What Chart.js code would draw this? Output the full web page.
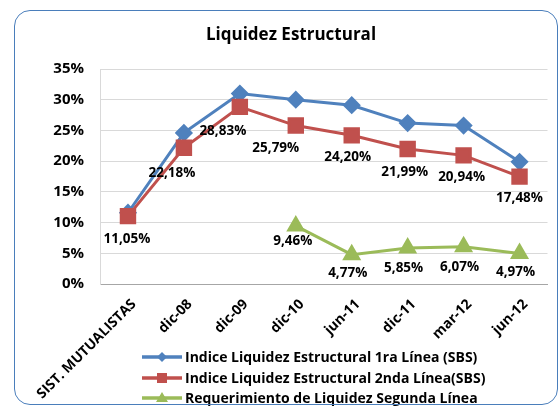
<!DOCTYPE html>
<html>
<head>
<meta charset="utf-8">
<script src="https://cdn.jsdelivr.net/npm/chart.js@4/dist/chart.umd.min.js"></script>
<style>
  html, body { margin: 0; padding: 0; background: #fff; }
  #wrap { position: relative; width: 560px; height: 407px; }
  #frame {
    position: absolute; left: 14px; top: 10px; width: 542px; height: 393px;
    border: 1.5px solid #4a7ebb; border-radius: 16px; pointer-events: none;
  }
  canvas { position: absolute; left: 0; top: 0; }
</style>
</head>
<body>
<div id="wrap">
  <canvas id="chart" width="560" height="407"></canvas>
  <div id="frame"></div>
</div>
<script>
'use strict';

/* DATA */
const categories = ['SIST. MUTUALISTAS', 'dic-08', 'dic-09', 'dic-10', 'jun-11', 'dic-11', 'mar-12', 'jun-12'];
const primeraLinea = [11.6, 24.6, 31.0, 30.0, 29.1, 26.2, 25.8, 19.9];
const segundaLinea = [11.05, 22.18, 28.83, 25.79, 24.20, 21.99, 20.94, 17.48];
const requerimiento = [null, null, null, 9.46, 4.77, 5.85, 6.07, 4.97];
const seriesNames = [
  'Indice Liquidez Estructural 1ra Línea (SBS)',
  'Indice Liquidez Estructural 2nda Línea(SBS)',
  'Requerimiento de Liquidez Segunda Línea'
];
const yTicks = [0, 5, 10, 15, 20, 25, 30, 35];

const FONT = "'Open Sans', 'DejaVu Sans', sans-serif";
const fmt = v => v.toFixed(2).replace('.', ',') + '%';

/* value labels under points (per-point nudges like the hand-placed Excel labels) */
const valueLabels = {
  id: 'valueLabels',
  afterDatasetsDraw(chart) {
    const ctx = chart.ctx;
    ctx.save();
    ctx.font = 'bold 13.5px ' + FONT;
    ctx.fillStyle = '#000';
    ctx.textAlign = 'center';
    ctx.textBaseline = 'middle';
    chart.data.datasets.forEach((ds, i) => {
      if (!ds.label_) return;
      chart.getDatasetMeta(i).data.forEach((pt, j) => {
        const v = ds.data[j];
        if (v == null) return;
        ctx.fillText(fmt(v), pt.x + ds.label_.dx[j], pt.y + ds.label_.dy[j]);
      });
    });
    ctx.restore();
  }
};

/* title + legend drawn on canvas */
const decor = {
  id: 'decor',
  afterDraw(chart) {
    const ctx = chart.ctx;
    ctx.save();
    ctx.fillStyle = '#000';
    ctx.font = 'bold 17px ' + FONT;
    ctx.textAlign = 'center';
    ctx.textBaseline = 'middle';
    ctx.fillText('Liquidez Estructural', 291, 35);

    const rows = [357, 378, 398];
    ctx.font = 'bold 14px ' + FONT;
    ctx.textAlign = 'left';
    chart.data.datasets.forEach((ds, i) => {
      const y = rows[i];
      ctx.strokeStyle = ds.borderColor;
      ctx.lineWidth = 3.5;
      ctx.beginPath(); ctx.moveTo(142, y); ctx.lineTo(182, y); ctx.stroke();
      ctx.fillStyle = ds.borderColor;
      ctx.beginPath();
      const cx = 162;
      if (ds.pointStyle === 'rectRot') {
        ctx.moveTo(cx - 5, y); ctx.lineTo(cx, y - 5); ctx.lineTo(cx + 5, y); ctx.lineTo(cx, y + 5);
      } else if (ds.pointStyle === 'rect') {
        ctx.rect(cx - 5, y - 5, 10, 10);
      } else {
        ctx.moveTo(cx, y - 6); ctx.lineTo(cx + 6, y + 4); ctx.lineTo(cx - 6, y + 4);
      }
      ctx.closePath(); ctx.fill();
      ctx.fillStyle = '#000';
      ctx.fillText(seriesNames[i], 185, y + 1);
    });
    ctx.restore();
  }
};

new Chart(document.getElementById('chart'), {
  type: 'line',
  data: {
    labels: categories,
    datasets: [
      {
        data: primeraLinea, borderColor: '#4f81bd', backgroundColor: '#4f81bd',
        borderWidth: 3, pointStyle: 'rectRot', pointRadius: 7, order: 2
      },
      {
        data: segundaLinea, borderColor: '#c0504d', backgroundColor: '#c0504d',
        borderWidth: 3, pointStyle: 'rect', pointRadius: 9.5, order: 1,
        label_: { dx: [-1, -12, -17, -20, -4, -3, -2, 0], dy: [23, 25, 24, 23, 22, 23, 22, 22] }
      },
      {
        data: requerimiento, borderColor: '#9bbb59', backgroundColor: '#9bbb59',
        borderWidth: 3, pointStyle: 'triangle', pointRadius: 8, order: 0,
        label_: { dx: [0, 0, 0, -3, -4, -4, -4, -4], dy: [0, 0, 0, 15, 18, 20, 20, 19] }
      }
    ]
  },
  options: {
    responsive: false,
    animation: false,
    layout: { padding: { top: 69, right: 4, left: 0, bottom: 0 } },
    plugins: { legend: { display: false }, title: { display: false }, tooltip: { enabled: false } },
    scales: {
      x: {
        offset: true,
        grid: { display: false },
        border: { display: true, color: '#a6a6a6', width: 1 },
        ticks: {
          color: '#000', font: { family: FONT, size: 14, weight: 'bold' },
          maxRotation: 45, minRotation: 45, autoSkip: false, padding: 4, labelOffset: 6
        },
        afterFit: s => { s.height = 123; }
      },
      y: {
        min: 0, max: 35,
        afterBuildTicks: s => { s.ticks = yTicks.map(v => ({ value: v })); },
        grid: { color: '#d9d9d9', drawTicks: false },
        border: { display: true, color: '#d9d9d9' },
        ticks: {
          color: '#000', font: { family: FONT, size: 15, weight: 'bold' },
          padding: 16, callback: v => v + '%'
        },
        afterFit: s => { s.width = 100; }
      }
    }
  },
  plugins: [valueLabels, decor]
});
</script>
</body>
</html>
